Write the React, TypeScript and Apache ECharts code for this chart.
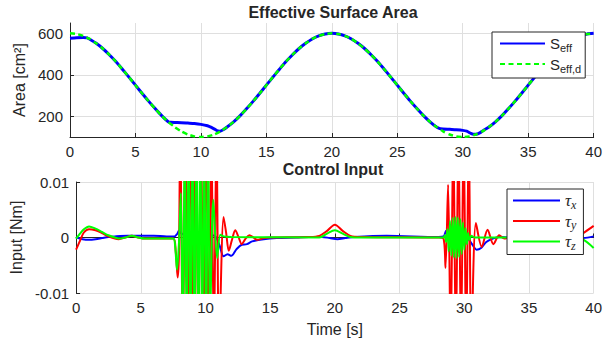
import React, { useEffect, useRef } from 'react';
import * as echarts from 'echarts';

// ---------- data ----------
const timeTicks = { min: 0, max: 40, interval: 5 };
const areaTicks = [200, 400, 600];

// Desired effective surface area, sampled every 0.5 s from t = 0 to 40
const sEffDesiredStep = 0.5;
const sEffDesiredValues = [
  600, 597, 588, 573, 552, 527, 497, 464, 427, 389, 350, 311, 273, 237, 203, 173, 148, 127, 112, 103,
  100, 103, 112, 127, 148, 173, 203, 237, 273, 311, 350, 389, 427, 464, 497, 527, 552, 573, 588, 597,
  600, 597, 588, 573, 552, 527, 497, 464, 427, 389, 350, 311, 273, 237, 203, 173, 148, 127, 112, 103,
  100, 103, 112, 127, 148, 173, 203, 237, 273, 311, 350, 389, 427, 464, 497, 527, 552, 573, 588, 597,
  600,
];

// Actual effective surface area [t, cm^2]
const sEff: [number, number][] = [
  [0, 577], [0.5, 579], [1, 580], [1.3, 578], [1.6, 568], [2, 552], [2.5, 527], [3, 497], [3.5, 464],
  [4, 427], [4.5, 389], [5, 350], [5.5, 311], [6, 273], [6.5, 237], [7, 203], [7.5, 174], [7.7, 171],
  [8, 170], [8.5, 169], [9, 167], [9.5, 165], [10, 161], [10.5, 154], [10.8, 146], [11.1, 136],
  [11.3, 129], [11.45, 128], [11.7, 135], [12, 148], [12.5, 173], [13, 203], [13.5, 237], [14, 273],
  [14.5, 311], [15, 350], [15.5, 389], [16, 427], [16.5, 464], [17, 497], [17.5, 527], [18, 552],
  [18.5, 573], [19, 588], [19.5, 597], [20, 600], [20.5, 597], [21, 588], [21.5, 573], [22, 552],
  [22.5, 527], [23, 497], [23.5, 464], [24, 427], [24.5, 389], [25, 350], [25.5, 311], [26, 273],
  [26.5, 237], [27, 203], [27.5, 173], [28, 148], [28.3, 140], [29, 137], [29.5, 135], [30, 132],
  [30.3, 128], [30.6, 118], [30.8, 113], [31, 113], [31.3, 120], [31.6, 133], [32, 148], [32.5, 173],
  [33, 203], [33.5, 237], [34, 273], [34.5, 311], [35, 350], [35.5, 389], [36, 427], [36.5, 464],
  [37, 497], [37.5, 527], [38, 552], [38.5, 573], [39, 588], [39.5, 597], [40, 600],
];

// Control torques [t, Nm]
const tauX: [number, number][] = [
  [0, 0], [0.5, -0.0003], [1, -0.0004], [1.5, -0.0003], [2, -0.0001], [2.5, 0.0001], [3, 0.0002],
  [4, 0.0003], [5, 0.0003], [6, 0.0003], [7, 0.0002], [7.6, 0.0002], [7.8, 0.0006], [7.95, 0.0012],
  [8.1, 0.0008], [8.5, 0.0004], [9, 0.0003], [9.5, 0.0003], [10, 0.0003], [10.5, 0.0004], [10.8, 0.0001],
  [11.1, -0.0015], [11.4, -0.0034], [11.7, -0.003], [12, -0.0033], [12.4, -0.0021], [12.8, -0.0013],
  [13.2, -0.0012], [13.6, -0.0007], [14.5, -0.0003], [15.5, -0.0001], [17, 0], [18, 0.0001], [19, 0.0001],
  [19.6, -0.0001], [20.2, -0.0003], [20.8, -0.0001], [21.5, 0.0001], [24, 0.0003], [28, 0.0001],
  [28.4, 0.0002], [28.6, 0.0012], [28.8, 0.0005], [29.2, 0.0008], [29.6, 0.0004], [30, 0.0002],
  [30.3, -0.0002], [30.6, -0.0012], [30.95, -0.0022], [31.3, -0.0019], [31.7, -0.0008], [32.2, -0.0002],
  [32.7, 0.0001], [33.5, 0], [36, 0], [39.2, -0.0001], [40, 0.0002],
];

const tauY: [number, number][] = [
  [0, -0.0022], [0.3, -0.0006], [0.6, 0.0009], [1, 0.0015], [1.5, 0.0013], [2, 0.0008], [2.5, 0.0002],
  [3, -0.0002], [3.3, -0.0003], [3.8, 0], [4.3, 0.0003], [4.8, 0], [5.3, -0.0002], [7.5, -0.0002],
  [7.7, -0.0025], [7.85, -0.0072], [7.95, -0.003],
  [8.05, 0.02], [8.25, -0.02], [8.45, 0.02], [8.65, -0.02], [8.85, 0.02], [9.05, -0.02], [9.25, 0.02],
  [9.45, -0.02], [9.65, 0.02], [9.85, -0.02], [10.05, 0.02], [10.25, -0.02], [10.45, 0.02], [10.65, -0.02],
  [10.85, 0.02], [11.05, -0.02],
  [11.4, 0.0037], [11.6, 0.0008], [11.8, -0.0024], [12.05, -0.0004], [12.3, 0.0013], [12.55, 0.0001],
  [12.8, -0.0012], [13.1, -0.0002], [13.4, 0.0004], [13.7, 0], [14, -0.0004], [14.5, -0.0001], [15, 0],
  [18, 0.0001], [18.8, 0.0003], [19.4, 0.0012], [20, 0.0023], [20.6, 0.0012], [21.2, 0.0003], [22, 0.0001],
  [28, 0], [28.4, -0.0002], [28.55, -0.0055], [28.75, 0.0095],
  [28.95, -0.02], [29.15, 0.02], [29.35, -0.02], [29.55, 0.02], [29.75, -0.02], [29.95, 0.02],
  [30.15, -0.02], [30.35, 0.02], [30.55, -0.02],
  [30.9, 0.0026], [31.35, -0.0017], [31.8, 0.0014], [32.25, -0.0012], [32.7, 0.0004], [33.1, -0.0002],
  [33.5, 0], [38.6, 0], [39.2, 0.0008], [40, 0.0021],
];

const tauZ: [number, number][] = [
  [0, -0.0002], [0.3, 0.0007], [0.6, 0.0015], [1, 0.002], [1.5, 0.0016], [2, 0.001], [2.5, 0.0004],
  [3, 0], [3.4, -0.0002], [3.8, 0], [4.3, 0.0003], [4.8, 0], [5.3, -0.0002], [7.5, -0.0002],
  [7.65, -0.0015], [7.8, -0.0058], [7.95, -0.001], [8.1, 0.008],
  [8.25, -0.02], [8.4, 0.02], [8.55, -0.02], [8.7, 0.02], [8.85, -0.02], [9, 0.02], [9.15, -0.02],
  [9.3, 0.02], [9.45, -0.02], [9.6, 0.02], [9.75, -0.02], [9.9, 0.02], [10.05, -0.02], [10.2, 0.02],
  [10.35, -0.016], [10.6, 0.0068], [10.9, -0.0037], [11.15, 0.0005], [11.4, 0.0002], [12, 0.0001],
  [18.8, 0], [19.4, 0.0007], [20, 0.0013], [20.6, 0.0007], [21.2, 0.0001], [22, 0], [28.4, 0],
  [28.5, 0.0004], [28.6, -0.0008], [28.7, 0.0015], [28.8, -0.0025], [28.9, 0.003], [29, -0.0033],
  [29.1, 0.0035], [29.2, -0.0036], [29.3, 0.0037], [29.4, -0.0037], [29.5, 0.0036], [29.6, -0.0035],
  [29.7, 0.0033], [29.8, -0.003], [29.9, 0.0027], [30, -0.0022], [30.1, 0.0017], [30.2, -0.0012],
  [30.3, 0.0008], [30.4, -0.0004], [30.55, 0.0003], [30.8, 0], [38.5, 0], [39.2, -0.0004], [40, -0.0019],
];

// ---------- styling ----------
const FONT = '"Liberation Sans", Arial, Helvetica, sans-serif';
const SERIF = '"Liberation Serif", "DejaVu Serif", serif';
const TXT = '#262626';
const GRIDC = '#dfdfdf';

function buildOption() {
  const sEffDesired = sEffDesiredValues.map((v, i) => [i * sEffDesiredStep, v]);

  const xAxisBase = (gridIndex: number) => ({
    gridIndex,
    type: 'value',
    min: timeTicks.min,
    max: timeTicks.max,
    interval: timeTicks.interval,
    axisLine: { show: true, lineStyle: { color: TXT, width: 1 } },
    axisTick: { show: true, inside: true, length: 4, lineStyle: { color: TXT } },
    axisLabel: { margin: 7, fontSize: 15, color: TXT, fontFamily: FONT },
    splitLine: { show: true, lineStyle: { color: GRIDC, width: 1 } },
  });

  return {
    animation: false,
    backgroundColor: '#ffffff',
    title: [
      {
        text: 'Effective Surface Area', left: 333, top: 4, textAlign: 'center', padding: 0,
        textStyle: { fontFamily: FONT, fontWeight: 'bold', fontSize: 16, color: TXT },
      },
      {
        text: 'Control Input', left: 333, top: 161, textAlign: 'center', padding: 0,
        textStyle: { fontFamily: FONT, fontWeight: 'bold', fontSize: 16, color: TXT },
      },
    ],
    grid: [
      { left: 70, top: 23, width: 526, height: 114, containLabel: false },
      { left: 70, top: 182, width: 526, height: 111, containLabel: false },
    ],
    xAxis: [
      xAxisBase(0),
      {
        ...xAxisBase(1),
        name: 'Time [s]', nameLocation: 'middle', nameGap: 28,
        nameTextStyle: { fontSize: 16, color: TXT, fontFamily: FONT },
      },
    ],
    yAxis: [
      {
        gridIndex: 0, type: 'value', min: 100, max: 650,
        name: 'Area [cm²]', nameLocation: 'middle', nameGap: 38,
        nameTextStyle: { fontSize: 16, color: TXT, fontFamily: FONT },
        axisLine: { show: true, lineStyle: { color: TXT, width: 1 } },
        axisTick: { show: true, inside: true, length: 4, customValues: areaTicks, lineStyle: { color: TXT } },
        axisLabel: { margin: 7, fontSize: 15, color: TXT, fontFamily: FONT, customValues: areaTicks },
        splitLine: { show: true, lineStyle: { color: GRIDC, width: 1 } },
      },
      {
        gridIndex: 1, type: 'value', min: -0.01, max: 0.01, interval: 0.01,
        name: 'Input [Nm]', nameLocation: 'middle', nameGap: 47,
        nameTextStyle: { fontSize: 16, color: TXT, fontFamily: FONT },
        axisLine: { show: true, lineStyle: { color: TXT, width: 1 } },
        axisTick: { show: true, inside: true, length: 4, lineStyle: { color: TXT } },
        axisLabel: {
          margin: 7, fontSize: 15, color: TXT, fontFamily: FONT,
          formatter: (v: number) => (Math.abs(v) < 1e-12 ? '0' : v.toFixed(2)),
        },
        splitLine: { show: true, lineStyle: { color: GRIDC, width: 1 } },
      },
    ],
    legend: [
      {
        data: ['S_eff', 'S_eff,d'],
        orient: 'vertical', align: 'left', left: 492, top: 32,
        padding: [4, 4, 4, 7], itemGap: 3, itemWidth: 45, itemHeight: 14,
        backgroundColor: '#ffffff', borderColor: TXT, borderWidth: 1, borderRadius: 0,
        selectedMode: false,
        lineStyle: { width: 2 },
        itemStyle: { opacity: 0, borderWidth: 0 },
        formatter: (name: string) => `{m|S}{s|${name.slice(2)}}`,
        textStyle: {
          rich: {
            m: { fontSize: 15, fontFamily: FONT, color: TXT, lineHeight: 20 },
            s: { fontSize: 11, fontFamily: FONT, color: TXT, lineHeight: 11, verticalAlign: 'bottom' },
          },
        },
      },
      {
        data: ['tau_x', 'tau_y', 'tau_z'],
        orient: 'vertical', align: 'left', left: 507, top: 189,
        padding: [3, 7, 3, 5], itemGap: 2, itemWidth: 47, itemHeight: 14,
        backgroundColor: '#ffffff', borderColor: TXT, borderWidth: 1, borderRadius: 0,
        selectedMode: false,
        lineStyle: { width: 2 },
        itemStyle: { opacity: 0, borderWidth: 0 },
        formatter: (name: string) => `{m|τ}{s|${name.slice(4)}}`,
        textStyle: {
          rich: {
            m: { fontSize: 17, fontFamily: SERIF, fontStyle: 'italic', color: TXT, lineHeight: 20 },
            s: { fontSize: 12, fontFamily: SERIF, fontStyle: 'italic', color: TXT, lineHeight: 12, verticalAlign: 'bottom' },
          },
        },
      },
    ],
    series: [
      {
        name: 'S_eff', type: 'line', xAxisIndex: 0, yAxisIndex: 0, data: sEff,
        symbol: 'none', smooth: 0.2, clip: true,
        lineStyle: { color: '#0000ff', width: 3 }, itemStyle: { color: '#0000ff' },
      },
      {
        name: 'S_eff,d', type: 'line', xAxisIndex: 0, yAxisIndex: 0, data: sEffDesired,
        symbol: 'none', smooth: 0.2, clip: true,
        lineStyle: { color: '#00ff00', width: 2.5, type: [5, 3.5] }, itemStyle: { color: '#00ff00' },
      },
      {
        name: 'tau_x', type: 'line', xAxisIndex: 1, yAxisIndex: 1, data: tauX,
        symbol: 'none', smooth: 0.3, clip: true,
        lineStyle: { color: '#0000ff', width: 2 }, itemStyle: { color: '#0000ff' },
      },
      {
        name: 'tau_y', type: 'line', xAxisIndex: 1, yAxisIndex: 1, data: tauY,
        symbol: 'none', smooth: 0.3, clip: true,
        lineStyle: { color: '#ff0000', width: 2 }, itemStyle: { color: '#ff0000' },
      },
      {
        name: 'tau_z', type: 'line', xAxisIndex: 1, yAxisIndex: 1, data: tauZ,
        symbol: 'none', smooth: 0.3, clip: true,
        lineStyle: { color: '#00ff00', width: 2 }, itemStyle: { color: '#00ff00' },
      },
    ],
  };
}

export default function App() {
  const ref = useRef<HTMLDivElement>(null);
  useEffect(() => {
    if (!ref.current) return;
    const chart = echarts.init(ref.current, undefined, { renderer: 'svg' });
    chart.setOption(buildOption() as any);
    return () => chart.dispose();
  }, []);
  return (
    <div
      ref={ref}
      style={{ position: 'fixed', left: 0, top: 0, width: 605, height: 345, background: '#ffffff' }}
    />
  );
}
